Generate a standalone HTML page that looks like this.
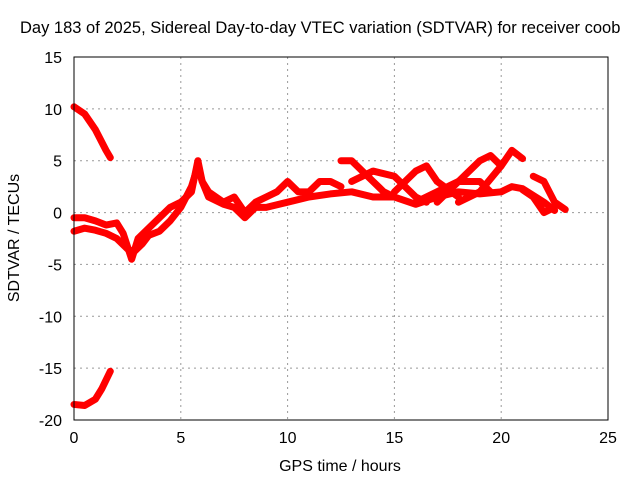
<!DOCTYPE html>
<html><head><meta charset="utf-8"><style>
body{margin:0;background:#fff}
svg{font-family:"Liberation Sans",sans-serif;font-size:16px}
</style></head><body>
<svg id="c" width="640" height="480">
<text x="20" y="33" font-size="16.5">Day 183 of 2025, Sidereal Day-to-day VTEC variation (SDTVAR) for receiver coob</text>
<g id="grid"></g>
<g id="series"></g>
<rect x="74" y="57" width="534" height="363" fill="none" stroke="#000"/>
<g id="ticks"></g>
<text x="340" y="471" text-anchor="middle">GPS time / hours</text>
<text transform="translate(19,238) rotate(-90)" text-anchor="middle">SDTVAR / TECUs</text>
</svg>
<script>
const xTicks=[0,5,10,15,20,25];
const yTicks=[15,10,5,0,-5,-10,-15,-20];
const s1=[[0,10.2],[0.5,9.5],[1,8],[1.5,6],[1.7,5.3]];
const s2=[[0,-18.5],[0.5,-18.6],[1,-18],[1.3,-17],[1.7,-15.3]];
const s3=[[0,-1.8],[0.5,-1.5],[1,-1.7],[1.5,-2],[2,-2.5],[2.5,-3.5],[2.8,-3.8],[3.2,-3],[3.5,-2.2],[4,-1.8],[4.5,-0.8],[5,0.5],[5.5,2.5],[5.8,4.5],[6,3],[6.3,1.5],[7,0.8],[7.5,0.5],[8,-0.5],[8.5,0.5],[9,0.5],[10,1],[11,1.5],[12,1.8],[13,2],[14,1.5],[15,1.5],[16,0.8],[17,1.5],[18,2],[19,1.8],[20,2],[20.5,2.5],[21,2.3],[22,1],[22.5,0.2]];
const s4=[[0,-0.5],[0.5,-0.5],[1,-0.8],[1.5,-1.2],[2,-1],[2.3,-2],[2.7,-4.5],[3,-2.5],[3.5,-1.5],[4,-0.5],[4.5,0.5],[5,1],[5.5,2],[5.8,5],[6,3],[6.3,2],[7,1],[7.5,1.5],[8,0],[8.5,1],[9,1.5],[9.5,2],[10,3],[10.5,2],[11,2],[11.5,3],[12,3],[12.5,2.5]];
const s5=[[12.5,5],[13,5],[13.5,4],[14,3],[14.5,2],[15,1.5]];
const s6=[[13,3],[14,4],[15,3.5],[16,1.5],[16.5,1]];
const s7=[[15,2],[16,4],[16.5,4.5],[17,3],[18,1.5]];
const s8=[[16,1],[17,2],[18,3],[19,3],[19.5,2]];
const s9=[[17,1],[18,3],[19,5],[19.5,5.5],[20,4.5]];
const s10=[[18,1],[19,2],[20,4.5],[20.5,6],[21,5.2]];
const s11=[[21.5,3.5],[22,3],[22.5,1],[23,0.3]];
const s12=[[21,2.2],[21.5,1.5],[22,0],[22.5,0.5]];
const series=[s1,s2,s3,s4,s5,s6,s7,s8,s9,s10,s11,s12];
const X=v=>74+v*534/25, Y=v=>420-(v+20)*363/35;
const NS="http://www.w3.org/2000/svg";
function mk(t,a,p){const e=document.createElementNS(NS,t);for(const k in a)e.setAttribute(k,a[k]);p.appendChild(e);return e;}
const g=document.getElementById('grid'),tk=document.getElementById('ticks'),sg=document.getElementById('series');
xTicks.forEach(v=>{
 if(v>0&&v<25){const l=mk('line',{x1:X(v),x2:X(v),y1:57,y2:420,stroke:'#999','stroke-dasharray':'2,4'},g);
 
 }
 const t=mk('text',{x:X(v),y:443,'text-anchor':'middle'},tk);t.textContent=v;
 
 
});
yTicks.forEach(v=>{
 if(v<15&&v>-20){const l=mk('line',{x1:74,x2:608,y1:Y(v),y2:Y(v),stroke:'#999','stroke-dasharray':'2,4'},g);
 
 }
 const t=mk('text',{x:62,y:Y(v)+6,'text-anchor':'end'},tk);t.textContent=v;
 
 
});
series.forEach(s=>{
 const p=mk('polyline',{points:s.map(d=>X(d[0])+','+Y(d[1])).join(' '),fill:'none',stroke:'#f00','stroke-width':7,'stroke-linejoin':'round','stroke-linecap':'round'},sg);
 
 
});
</script>
</body></html>
